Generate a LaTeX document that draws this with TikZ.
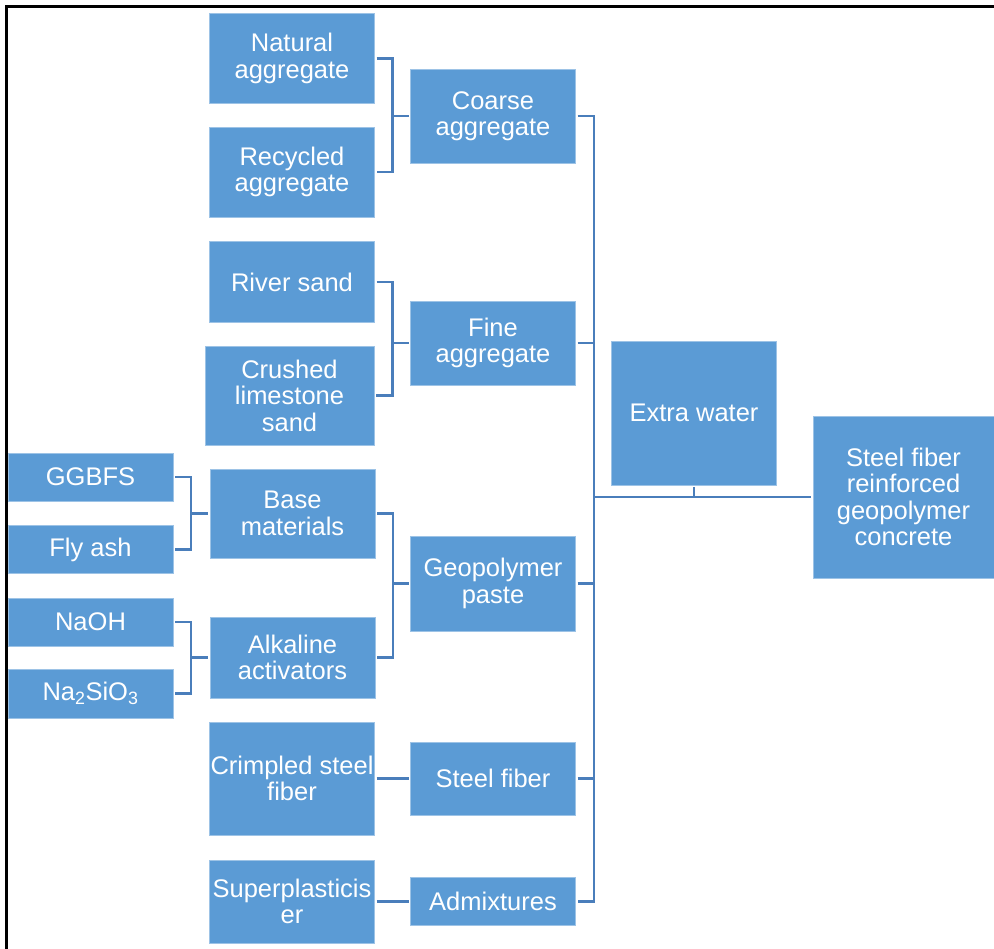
\documentclass[tikz,border=0pt]{standalone}
\usepackage{fontspec}
\setmainfont{Liberation Sans}
\usetikzlibrary{positioning}
\definecolor{boxblue}{HTML}{5B9BD5}
\definecolor{boxedge}{HTML}{9DC3E6}
\definecolor{lineblue}{HTML}{4A7EBB}
\tikzset{box/.style = {fill=boxblue, draw=boxedge, line width=0.8pt,
                       text=white, align=center, inner sep=0, outer sep=2pt,
                       font=\fontsize{25.5}{26.5}\selectfont}}
\tikzset{link/.style = {draw=lineblue, line width=2.4pt}}

\begin{document}
\begin{tikzpicture}[x=1pt,y=-1pt]
        \useasboundingbox (0,0) rectangle (994,949);
        \draw[line width=2.2pt] (6.5,949) -- (6.5,6.5) -- (994,6.5);
        % left column
        \node[box, minimum width=165, minimum height=48] (gg) at (90.5,477) {GGBFS};
        \node[box, minimum width=165, minimum height=48] (fa) at (90.5,549.5) {Fly ash};
        \node[box, minimum width=165, minimum height=48] (na) at (90.5,622) {NaOH};
        \node[box, minimum width=165, minimum height=49] (ns) at (90.5,693.5) {Na\textsubscript{2}SiO\textsubscript{3}};
        % second column
        \node[box, minimum width=165, minimum height=90] (nat) at (292,58.5) {Natural\\aggregate};
        \node[box, minimum width=165, minimum height=90] (rec) at (292,172) {Recycled\\aggregate};
        \node[box, minimum width=165, minimum height=81] (rs) at (292,282) {River sand};
        \node[box, minimum width=169, minimum height=99] (cls) at (289.5,395.5) {Crushed\\limestone\\sand};
        \node[box, minimum width=165, minimum height=89] (bm) at (292.5,513.5) {Base\\materials};
        \node[box, minimum width=165, minimum height=81] (aa) at (292.5,657.5) {Alkaline\\activators};
        \node[box, minimum width=165, minimum height=113] (csf) at (292,778.5) {Crimpled steel\\fiber};
        \node[box, minimum width=165, minimum height=83] (sp) at (292,901.5) {Superplasticis\\er};
        % third column
        \node[box, minimum width=165, minimum height=94] (ca) at (493,116) {Coarse\\aggregate};
        \node[box, minimum width=165, minimum height=84] (fi) at (493,343) {Fine\\aggregate};
        \node[box, minimum width=165, minimum height=95] (gp) at (493,583.5) {Geopolymer\\paste};
        \node[box, minimum width=165, minimum height=73] (sf) at (493,778.5) {Steel fiber};
        \node[box, minimum width=165, minimum height=48] (ad) at (493,901.5) {Admixtures};
        % right
        \node[box, minimum width=165, minimum height=144] (ew) at (694,413) {Extra water};
        \node[box, minimum width=181, minimum height=162] (sfgc) at (903.5,497)
          {Steel fiber\\reinforced\\geopolymer\\concrete};
        \coordinate (t) at (594,497);
        % brackets
        \draw[link] (nat.east) -- ++(16,0) coordinate (c1) |- (rec.east);
        \draw[link] (c1 |- ca.west) -- (ca.west);
        \draw[link] (rs.east) -- ++(16,0) coordinate (c2) |- (cls.east);
        \draw[link] (c2 |- fi.west) -- (fi.west);
        \draw[link] (gg.east) -- ++(16,0) coordinate (c3) |- (fa.east);
        \draw[link] (c3 |- bm.west) -- (bm.west);
        \draw[link] (na.east) -- ++(16,0) coordinate (c4) |- (ns.east);
        \draw[link] (c4 |- aa.west) -- (aa.west);
        \draw[link] (bm.east) -- ++(16,0) coordinate (c5) |- (aa.east);
        \draw[link] (c5 |- gp.west) -- (gp.west);
        \draw[link] (csf.east) -- (sf.west);
        \draw[link] (sp.east) -- (ad.west);
        % trunk
        \draw[link] (ca.east) -| (t |- ad.east) -- (ad.east);
        \foreach \n in {fi, gp, sf}
          \draw[link] (\n.east) -- (\n.east -| t);
        \draw[link] (t) -- (sfgc.west);
        \draw[link] (ew.south) -- (ew.south |- t);
      \end{tikzpicture}
\end{document}
